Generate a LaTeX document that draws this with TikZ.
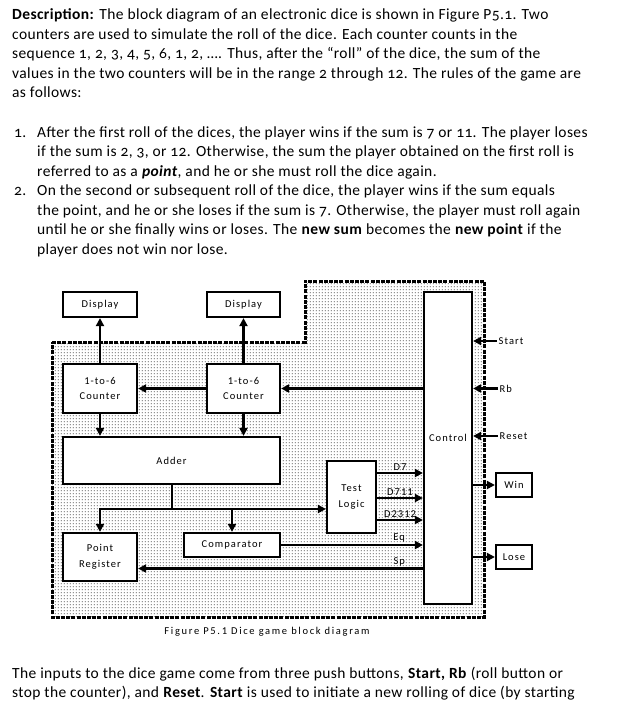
\documentclass[tikz,border=0pt]{standalone}
\usepackage{fontspec}
\setmainfont{Carlito}[Numbers=OldStyle,LetterSpace=2.5]
\newfontfamily\diafont{Carlito}[LetterSpace=10]
\usetikzlibrary{positioning,arrows.meta,patterns,calc}
\pgfdeclarepatternformonly{chipdots}{\pgfqpoint{0pt}{0pt}}{\pgfqpoint{3.2pt}{3.2pt}}{\pgfqpoint{3.2pt}{3.2pt}}{%
  \pgfpathrectangle{\pgfqpoint{1pt}{1pt}}{\pgfqpoint{1.1pt}{1.1pt}}\pgfusepath{fill}}
\tikzset{
  blk/.style={draw, line width=2.2pt, fill=white, align=center, inner sep=0pt,
    font=\diafont\fontsize{10.5}{15.5}\selectfont},
  wire/.style={line width=2.2pt},
  sig/.style={wire, -{Triangle[length=8pt,width=8pt]}},
  lbl/.style={font=\diafont\fontsize{10.5}{12}\selectfont, inner sep=1.5pt},
  txt/.style={anchor=base west, inner sep=0pt, font=\fontsize{15.5}{19}\selectfont},
}

\begin{document}
\begin{tikzpicture}[x=1pt,y=-1pt]
\useasboundingbox (0,0) rectangle (637,726);
% text above the figure
\node[txt] (d1) at (12,19) {\textbf{Description:} The block diagram of an electronic dice is shown in Figure P5.1. Two};
\node[txt] (d2) at (12,39) {counters are used to simulate the roll of the dice. Each counter counts in the};
\node[txt] (d3) at (12,58.5) {sequence 1, 2, 3, 4, 5, 6, 1, 2, …. Thus, after the “roll” of the dice, the sum of the};
\node[txt] (d4) at (12,78) {values in the two counters will be in the range 2 through 12. The rules of the game are};
\node[txt] (d5) at (12,97.5) {as follows:};
\node[txt] (n1) at (14,137) {1.};
\node[txt] (r1a) at (37,137) {After the first roll of the dices, the player wins if the sum is 7 or 11. The player loses};
\node[txt] (r1b) at (37,156.5) {if the sum is 2, 3, or 12. Otherwise, the sum the player obtained on the first roll is};
\node[txt] (r1c) at (37,176) {referred to as a \textbf{\textit{point}}, and he or she must roll the dice again.};
\node[txt] (n2) at (14,195.5) {2.};
\node[txt] (r2a) at (37,195.5) {On the second or subsequent roll of the dice, the player wins if the sum equals};
\node[txt] (r2b) at (37,215) {the point, and he or she loses if the sum is 7. Otherwise, the player must roll again};
\node[txt] (r2c) at (37,234.5) {until he or she finally wins or loses. The \textbf{new sum} becomes the \textbf{new point} if the};
\node[txt] (r2d) at (37,254) {player does not win nor lose.};

% shaded chip area
\draw[line width=3pt, dash pattern=on 4pt off 1.2pt, pattern=chipdots]
  (52,342) -- (305,342) -- (305,281) -- (484,281) -- (484,617) -- (52,617) -- cycle;

% blocks
\node[blk, minimum width=74pt, minimum height=25pt] (disp1) at (100,304.5) {Display};
\node[blk, minimum width=73pt, minimum height=25pt] (disp2) at (243.5,304.5) {Display};
\node[blk, minimum width=74pt, minimum height=49pt] (cnt1) at (100,388.5) {1-to-6\\Counter};
\node[blk, minimum width=73pt, minimum height=49pt] (cnt2) at (243.5,388.5) {1-to-6\\Counter};
\node[blk, minimum width=217pt, minimum height=47pt] (adder) at (171.5,460.5) {Adder};
\node[blk, minimum width=74pt, minimum height=48pt] (point) at (100,557) {Point\\Register};
\node[blk, minimum width=96pt, minimum height=24pt] (comp) at (232,545) {Comparator};
\node[blk, minimum width=49pt, minimum height=72pt] (test) at (351.5,497) {Test\\Logic};
\node[blk, minimum width=48pt, minimum height=312pt] (control) at (448,448) {};
\node[lbl] (ctrltxt) at (448,438) {Control};
\node[blk, minimum width=36pt, minimum height=24pt] (win) at (514,485) {Win};
\node[blk, minimum width=36pt, minimum height=24pt] (lose) at (514,557) {Lose};

% push buttons
\node[lbl, anchor=west] (start) at (497,341) {Start};
\node[lbl, anchor=west] (rb) at (498,388.5) {Rb};
\node[lbl, anchor=west] (reset) at (498,436) {Reset};

\coordinate (bus) at (172,509);
\coordinate (spy) at (0,568.5);
\coordinate (t7) at ([yshift=24pt]test.east);
\coordinate (t711) at ([yshift=-1pt]test.east);
\coordinate (t2312) at ([yshift=-23pt]test.east);

% connections
\draw[sig] (cnt1) -- (disp1);
\draw[sig] (cnt2) -- (disp2);
\draw[sig] (cnt2) -- (cnt1);
\draw[sig] (control.west |- cnt2) -- (cnt2.east);
\draw[sig] (cnt1) -- (cnt1 |- adder.north);
\draw[sig] (cnt2) -- (cnt2 |- adder.north);
\draw[wire] (adder.south -| bus) -- (bus);
\draw[sig] (bus) -| (point.north);
\draw[sig] (bus) -- (test.west |- bus);
\draw[sig] (comp.north |- bus) -- (comp.north);
\draw[sig] (t7) -- (control.west |- t7) node[lbl, midway, above] {D7};
\draw[sig] (t711) -- (control.west |- t711) node[lbl, midway, above] {D711};
\draw[sig] (t2312) -- (control.west |- t2312) node[lbl, midway, above] {D2312};
\draw[sig] (comp.east) -- (control.west |- comp.east) node[lbl, pos=0.833, above] {Eq};
\draw[sig] (control.west |- spy) -- (point.east |- spy) node[lbl, pos=0.083, above] {Sp};
\draw[sig] (control.east |- win) -- (win);
\draw[sig] (control.east |- lose) -- (lose);
\draw[sig] (start.west) -- (control.east |- start.west);
\draw[sig] (rb.west) -- (control.east |- rb.west);
\draw[sig] (reset.west) -- (control.east |- reset.west);

\node[lbl, font=\diafont\addfontfeature{LetterSpace=16}\fontsize{10.5}{12}\selectfont] (caption) at (267,632) {Figure P5.1 Dice game block diagram};

% text below the figure
\node[txt] (b1) at (12,678) {The inputs to the dice game come from three push buttons, \textbf{Start, Rb} (roll button or};
\node[txt] (b2) at (12,697.5) {stop the counter), and \textbf{Reset}. \textbf{Start} is used to initiate a new rolling of dice (by starting};
\end{tikzpicture}
\end{document}
